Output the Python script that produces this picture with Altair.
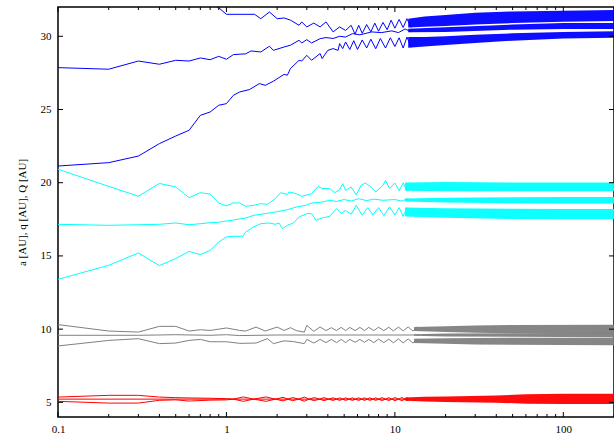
import altair as alt
import pandas as pd

GROUPS = ["Neptune", "Uranus", "Saturn", "Jupiter"]
COLORS = ["#0000ff", "#00ffff", "#808080", "#ff0000"]

# ---- sparse part of each curve: (time, value) ----
nep_Q = [(0.1,34.6),(0.2,34.2),(0.3,34.0),(0.4,33.5),(0.5,33.4),(0.6,33.1),(0.7,32.6),(0.8,32.2),(0.9,31.95),(1.0,31.5),
         (1.47,31.5),(1.6,31.2),(1.8,31.66),(2.0,31.2),(2.2,31.25),(2.4,31.1),(2.7,30.75),(2.8,30.98),(3.0,30.64),(3.3,30.9),
         (3.6,30.64),(3.9,30.98),(4.3,30.3),(4.7,30.64),(5.1,30.4),(5.5,30.75),(5.8,30.15),(6.1,30.75),(6.4,30.2),(6.8,30.8),
         (7.2,30.3),(7.6,30.9),(8.0,30.35),(8.5,30.95),(9.0,30.45),(9.5,31.1),(10.0,30.55),(10.6,31.15),(11.2,30.6),(11.8,31.2),
         (12.5,30.6)]
nep_a = [(0.1,27.86),(0.2,27.75),(0.3,28.31),(0.4,28.09),(0.5,28.36),(0.6,28.31),(0.7,28.52),(0.8,28.4),(0.9,28.63),(1.0,28.43),
         (1.1,28.75),(1.3,28.8),(1.4,29.0),(1.6,28.93),(1.8,29.32),(1.9,29.04),(2.2,29.27),(2.4,29.39),(2.7,29.73),(2.8,29.54),
         (3.0,29.77),(3.2,29.54),(3.6,29.84),(3.9,29.91),(4.3,29.85),(4.7,30.0),(5.1,29.95),(5.6,30.18),(6.2,30.1),(7.3,30.3),
         (8.3,30.25),(9.6,30.37),(10.5,30.25),(11.5,30.5),(12.5,30.3)]
nep_q = [(0.1,21.14),(0.2,21.37),(0.3,21.82),(0.4,22.67),(0.5,23.19),(0.6,23.58),(0.7,24.6),(0.8,24.83),(0.9,25.29),(1.0,25.4),
         (1.1,25.97),(1.2,26.2),(1.37,26.36),(1.57,26.77),(1.7,26.65),(1.9,26.93),(2.2,27.4),(2.3,27.34),(2.4,27.8),(2.7,28.36),
         (2.8,28.31),(3.0,28.7),(3.2,28.36),(3.6,28.82),(3.7,28.48),(4.0,29.04),(4.3,29.16),(4.6,29.04),(4.7,29.5),(4.9,29.16),
         (5.1,29.61),(5.4,29.1),(5.7,29.7),(6.0,29.1),(6.4,29.75),(6.8,29.2),(7.2,29.8),(7.7,29.15),(8.2,29.85),(8.8,29.2),
         (9.4,29.9),(10.0,29.3),(10.6,29.9),(11.2,29.2),(11.8,29.95),(12.5,29.25)]

ura_Q = [(0.1,20.92),(0.2,19.75),(0.3,19.08),(0.4,19.95),(0.5,19.71),(0.6,18.98),(0.7,19.32),(0.8,19.22),(0.9,18.61),(1.0,18.42),
         (1.1,18.62),(1.2,18.62),(1.3,18.39),(1.45,18.45),(1.6,18.57),(1.75,18.52),(1.95,18.91),(2.1,19.32),(2.3,19.2),(2.35,19.37),
         (2.6,19.25),(2.8,19.07),(3.2,19.25),(3.5,19.75),(3.7,19.6),(4.1,19.6),(4.4,19.32),(4.7,19.53),(4.9,19.94),(5.1,19.48),
         (5.5,19.7),(5.9,19.18),(6.3,19.82),(6.7,19.98),(7.2,19.71),(7.7,19.37),(8.5,19.82),(8.8,20.16),(9.3,19.6),(10.0,19.98),
         (10.6,19.45),(11.2,20.0),(11.8,19.45)]
ura_a = [(0.1,17.16),(0.2,17.09),(0.3,17.13),(0.4,17.16),(0.5,17.25),(0.6,17.13),(0.7,17.2),(0.8,17.27),(0.9,17.3),(1.0,17.39),
         (1.1,17.45),(1.3,17.59),(1.45,17.77),(1.7,17.89),(1.95,18.0),(2.3,18.16),(2.6,18.34),(2.95,18.45),(3.2,18.61),(3.7,18.68),
         (4.1,18.8),(4.5,18.72),(5.0,18.85),(5.5,18.75),(6.1,18.91),(6.8,18.78),(7.5,18.88),(8.5,18.8),(10.0,18.85),(11.0,18.75),
         (12.0,18.92)]
ura_q = [(0.1,13.4),(0.2,14.36),(0.3,15.2),(0.4,14.34),(0.5,14.82),(0.6,15.31),(0.7,15.09),(0.8,15.38),(0.9,15.95),(1.0,16.3),
         (1.1,16.34),(1.25,16.34),(1.3,16.63),(1.45,16.98),(1.6,17.2),(1.8,17.25),(1.95,17.16),(2.05,17.25),(2.15,16.86),(2.3,17.09),
         (2.5,17.25),(2.7,17.66),(3.0,17.89),(3.2,17.89),(3.4,17.43),(3.7,17.6),(4.1,17.7),(4.5,18.23),(4.8,17.9),(5.1,18.1),
         (5.5,17.85),(5.9,18.45),(6.4,17.77),(6.9,18.3),(7.4,17.8),(8.0,18.3),(8.6,17.75),(9.3,18.35),(10.0,17.8),(10.6,18.3),
         (11.2,17.7),(11.8,18.3)]

sat_Q = [(0.1,10.31),(0.2,9.87),(0.3,9.8),(0.4,10.19),(0.5,10.19),(0.6,9.87),(0.7,9.96),(0.8,9.91),(0.9,10.0),(1.0,10.08),
         (1.2,9.91),(1.3,9.87),(1.5,10.14),(1.7,9.87),(2.0,10.14),(2.2,9.91),(2.4,10.1),(2.6,9.9),(2.9,9.8),(3.0,10.26),
         (3.3,9.85),(3.6,10.15),(3.9,9.9),(4.2,10.1),(4.5,9.9),(4.8,10.12),(5.1,9.9),(5.4,10.12),(5.8,9.9),(6.2,10.12),
         (6.6,9.9),(7.0,10.12),(7.5,9.9),(8.0,10.13),(8.6,9.9),(9.2,10.13),(9.8,9.88),(10.5,10.14),(11.2,9.88),(12.0,10.15),
         (12.8,9.87),(13.6,10.15)]
sat_a = [(0.1,9.58),(0.3,9.58),(0.5,9.62),(0.8,9.58),(1.0,9.62),(1.2,9.56),(2.0,9.6),(3.0,9.6),(5.0,9.6),(7.0,9.6),
         (10.0,9.6),(14.0,9.6)]
sat_q = [(0.1,8.85),(0.2,9.23),(0.3,9.35),(0.4,9.01),(0.5,9.05),(0.6,9.23),(0.7,9.3),(0.8,9.14),(0.9,9.14),(1.0,9.14),
         (1.2,9.03),(1.5,9.05),(1.75,9.35),(1.9,9.01),(2.2,9.2),(2.5,9.15),(2.9,9.01),(3.0,9.3),(3.3,9.05),(3.6,9.3),
         (3.9,9.08),(4.2,9.3),(4.5,9.08),(4.8,9.3),(5.1,9.08),(5.4,9.3),(5.8,9.1),(6.2,9.3),(6.6,9.1),(7.0,9.3),
         (7.5,9.08),(8.0,9.32),(8.6,9.08),(9.2,9.32),(9.8,9.07),(10.5,9.33),(11.2,9.06),(12.0,9.33),(12.8,9.05),(13.6,9.34)]

jup_Q = [(0.1,5.36),(0.2,5.48),(0.3,5.48),(0.4,5.36),(0.5,5.32),(0.6,5.3),(0.8,5.28),(1.0,5.25),(1.1,5.22),(1.26,5.37),
         (1.45,5.22),(1.72,5.37),(1.95,5.22),(2.17,5.34),(2.32,5.22),(2.47,5.33),(2.68,5.22),(2.9,5.36),(3.1,5.22),(3.33,5.33),
         (3.55,5.22),(3.8,5.32),(4.05,5.22),(4.3,5.31),(4.5,5.22),(4.7,5.31),(4.9,5.22),(5.1,5.31),(5.35,5.22),(5.6,5.31),
         (5.85,5.22),(6.1,5.31),(6.35,5.22),(6.6,5.31),(6.85,5.22),(7.1,5.31),(7.4,5.22),(7.7,5.31),(8.0,5.22),(8.4,5.32),
         (8.8,5.22),(9.2,5.32),(9.6,5.22),(10.0,5.33),(10.5,5.22),(11.0,5.33),(11.5,5.22),(12.0,5.33)]
jup_a = [(0.1,5.22),(1.0,5.22),(7.0,5.22),(12.0,5.22)]
jup_q = [(0.1,5.07),(0.2,4.95),(0.3,4.95),(0.4,5.14),(0.5,5.17),(0.6,5.09),(0.8,5.15),(1.0,5.17),(1.1,5.22),(1.26,5.07),
         (1.45,5.22),(1.72,5.07),(1.95,5.22),(2.17,5.1),(2.32,5.22),(2.47,5.11),(2.68,5.22),(2.9,5.08),(3.1,5.22),(3.33,5.11),
         (3.55,5.22),(3.8,5.12),(4.05,5.22),(4.3,5.13),(4.5,5.22),(4.7,5.13),(4.9,5.22),(5.1,5.13),(5.35,5.22),(5.6,5.13),
         (5.85,5.22),(6.1,5.13),(6.35,5.22),(6.6,5.13),(6.85,5.22),(7.1,5.13),(7.4,5.22),(7.7,5.13),(8.0,5.22),(8.4,5.12),
         (8.8,5.22),(9.2,5.12),(9.6,5.22),(10.0,5.11),(10.5,5.22),(11.0,5.11),(11.5,5.22),(12.0,5.11)]

# ---- densely oscillating part: envelope (time, low, high) ----
nep_Q_band = [(12,30.6,31.2),(15,30.65,31.35),(20,30.7,31.45),(30,30.8,31.6),(50,30.9,31.7),(100,31.0,31.75),(200,31.05,31.8)]
nep_a_band = [(12,30.28,30.52),(20,30.3,30.62),(50,30.45,30.8),(100,30.5,30.9),(200,30.5,30.9)]
nep_q_band = [(12,29.22,29.95),(15,29.3,29.95),(20,29.4,30.0),(30,29.55,30.1),(50,29.7,30.2),(100,29.85,30.3),(200,29.9,30.35)]
ura_Q_band = [(11.5,19.45,20.02),(20,19.42,20.05),(50,19.42,20.02),(100,19.42,20.02),(200,19.42,20.02)]
ura_a_band = [(11.5,18.72,18.92),(20,18.65,18.97),(50,18.6,19.0),(100,18.58,19.02),(200,18.58,19.02)]
ura_q_band = [(11.5,17.7,18.3),(20,17.6,18.25),(50,17.52,18.22),(100,17.5,18.2),(200,17.5,18.2)]
sat_Q_band = [(13,9.87,10.15),(20,9.8,10.2),(30,9.75,10.25),(50,9.72,10.28),(200,9.7,10.3)]
sat_a_band = [(13,9.55,9.65),(20,9.5,9.7),(200,9.45,9.75)]
sat_q_band = [(13,9.05,9.34),(20,9.0,9.38),(30,8.95,9.4),(200,8.9,9.42)]
jup_band = [(11.5,5.11,5.33),(15,5.06,5.38),(20,5.03,5.4),(40,4.98,5.47),(60,4.9,5.55),(100,4.88,5.58),(200,4.88,5.58)]

X_MAJOR = [0.1, 1, 10, 100]
X_MINOR = [0.2,0.3,0.4,0.5,0.6,0.7,0.8,0.9,2,3,4,5,6,7,8,9,20,30,40,50,60,70,80,90,200]
Y_MAJOR = [5, 10, 15, 20, 25, 30]

W, H = 556, 410

curves = [("Neptune","Q",nep_Q),("Neptune","a",nep_a),("Neptune","q",nep_q),
          ("Uranus","Q",ura_Q),("Uranus","a",ura_a),("Uranus","q",ura_q),
          ("Saturn","Q",sat_Q),("Saturn","a",sat_a),("Saturn","q",sat_q),
          ("Jupiter","Q",jup_Q),("Jupiter","a",jup_a),("Jupiter","q",jup_q)]
bands = [("Neptune","Q",nep_Q_band),("Neptune","a",nep_a_band),("Neptune","q",nep_q_band),
         ("Uranus","Q",ura_Q_band),("Uranus","a",ura_a_band),("Uranus","q",ura_q_band),
         ("Saturn","Q",sat_Q_band),("Saturn","a",sat_a_band),("Saturn","q",sat_q_band),
         ("Jupiter","all",jup_band)]

df_lines = pd.DataFrame([{"group": g, "series": g + s, "t": t, "v": v}
                         for g, s, pts in curves for t, v in pts])
df_bands = pd.DataFrame([{"group": g, "series": g + s, "t": t, "lo": lo, "hi": hi}
                         for g, s, pts in bands for t, lo, hi in pts])

xs = alt.Scale(type="log", domain=[0.1, 200], nice=False)
ys = alt.Scale(domain=[4, 32], nice=False, zero=False)
color = alt.Color("group:N", scale=alt.Scale(domain=GROUPS, range=COLORS), legend=None)

xaxis = alt.Axis(values=X_MAJOR, format="~g", title=None, tickSize=0, domain=False, grid=False,
                 labelPadding=6, labelFlush=False)
yaxis = alt.Axis(values=Y_MAJOR, title="a [AU], q [AU], Q [AU]", tickSize=0, domain=False, grid=False,
                 labelPadding=7, titlePadding=13)

band_layer = alt.Chart(df_bands).mark_area(clip=True, opacity=0.95).encode(
    x=alt.X("t:Q", scale=xs, axis=xaxis),
    y=alt.Y("lo:Q", scale=ys, axis=yaxis),
    y2="hi:Q",
    color=color,
    detail="series:N",
)
line_layer = alt.Chart(df_lines).mark_line(clip=True, strokeWidth=1).encode(
    x=alt.X("t:Q", scale=xs, axis=xaxis),
    y=alt.Y("v:Q", scale=ys, axis=yaxis),
    color=color,
    detail="series:N",
    order="t:Q",
)

df_xmaj = pd.DataFrame({"t": X_MAJOR})
df_xmin = pd.DataFrame({"t": X_MINOR})
df_ymaj = pd.DataFrame({"v": Y_MAJOR})

def xticks(df, y0, y1):
    return alt.Chart(df).mark_rule(color="#000", strokeWidth=1).encode(
        x=alt.X("t:Q", scale=xs, axis=xaxis), y=alt.value(y0), y2=alt.value(y1))

def yticks(x0, x1):
    return alt.Chart(df_ymaj).mark_rule(color="#000", strokeWidth=1).encode(
        y=alt.Y("v:Q", scale=ys, axis=yaxis), x=alt.value(x0), x2=alt.value(x1))

tick_layers = [
    xticks(df_xmaj, H, H - 5), xticks(df_xmin, H, H - 3),
    xticks(df_xmaj, 0, 5), xticks(df_xmin, 0, 3),
    yticks(0, 5), yticks(W, W - 5),
]

chart = alt.layer(band_layer, line_layer, *tick_layers).properties(
    width=W, height=H,
    autosize=alt.AutoSizeParams(type="none"),
    padding={"left": 58, "top": 7, "right": 0, "bottom": 16},
).configure_view(
    stroke="#000", strokeWidth=1.5
).configure_axis(
    labelFont="Liberation Serif", labelFontSize=11, labelColor="#000",
    titleFont="Liberation Serif", titleFontSize=11, titleFontWeight="normal", titleColor="#000",
)

chart.save("out.html", embed_options={"renderer": "svg", "actions": False})
